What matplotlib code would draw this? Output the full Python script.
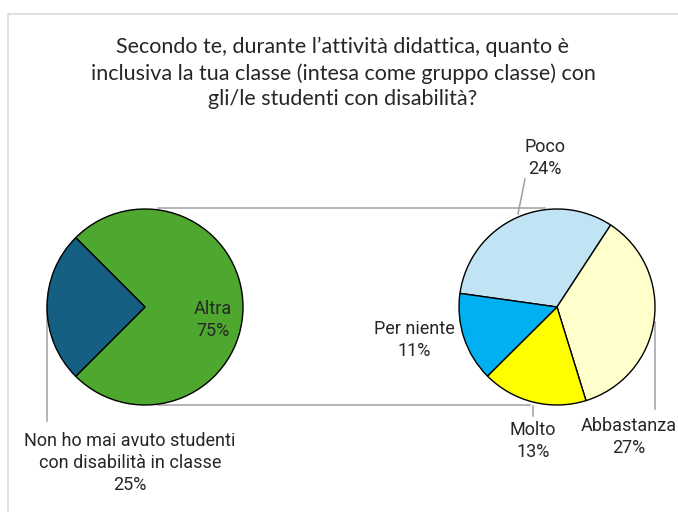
import matplotlib
matplotlib.use("Agg")
import matplotlib.pyplot as plt
from matplotlib.patches import Rectangle
from matplotlib import font_manager

# ---- data ----
title = ("Secondo te, durante l\u2019attività didattica, quanto è\n"
         "inclusiva la tua classe (intesa come gruppo classe) con\n"
         "gli/le studenti con disabilità?")
main_labels = ["Altra", "Non ho mai avuto studenti\ncon disabilità in classe"]
main_values = [75, 25]
main_colors = ["#4EA72E", "#156082"]

sub_labels = ["Poco", "Abbastanza", "Molto", "Per niente"]
sub_values = [24, 27, 13, 11]
sub_colors = ["#C1E4F5", "#FFFFCC", "#FFFF00", "#00B0F0"]

names = {f.name for f in font_manager.fontManager.ttflist}
title_font = "Lato" if "Lato" in names else "DejaVu Sans"
lab_font = "Roboto" if "Roboto" in names else "DejaVu Sans"

W, H = 678, 512
fig = plt.figure(figsize=(W / 100, H / 100), dpi=100)
ax = fig.add_axes([0, 0, 1, 1])

def Y(py):
    return H - py

# frame border
ax.add_patch(Rectangle((8, -20), 700, Y(14) + 20, fill=False, edgecolor="#D9D9D9", lw=1.2, zorder=0))

R = 98
c1 = (145, Y(307))
c2 = (557, Y(307))

ax.pie(main_values, colors=main_colors, startangle=225, counterclock=True,
       center=c1, radius=R, wedgeprops=dict(edgecolor="black", linewidth=1.0))
ax.pie(sub_values, colors=sub_colors, startangle=172, counterclock=False,
       center=c2, radius=R, wedgeprops=dict(edgecolor="black", linewidth=1.0))

# connector lines
gcol = "#A0A0A0"
ax.plot([158, 545], [Y(208), Y(208)], color=gcol, lw=1.1, zorder=0)
ax.plot([158, 530], [Y(405), Y(405)], color=gcol, lw=1.1, zorder=0)

# leader lines
ax.plot([47, 47], [Y(305), Y(421)], color=gcol, lw=1.1, zorder=0)
ax.plot([525, 518], [Y(179), Y(214)], color=gcol, lw=1.1, zorder=0)
ax.plot([533, 533], [Y(406), Y(416)], color=gcol, lw=1.1, zorder=0)
ax.plot([655, 655], [Y(322), Y(409)], color=gcol, lw=1.1, zorder=0)

fs = 13.0
def lab(x, y, s):
    ax.text(x, Y(y), s, ha="center", va="center", fontsize=fs, family=lab_font,
            color="#262626", linespacing=1.3)

lab(213, 320, f"{main_labels[0]}\n{main_values[0]}%")
lab(130, 463, f"{main_labels[1]}\n{main_values[1]}%")
lab(545, 158, f"{sub_labels[0]}\n{sub_values[0]}%")
lab(629, 437, f"{sub_labels[1]}\n{sub_values[1]}%")
lab(533, 441, f"{sub_labels[2]}\n{sub_values[2]}%")
lab(414, 340, f"{sub_labels[3]}\n{sub_values[3]}%")

ax.text(343, Y(73), title, ha="center", va="center", fontsize=15.5, family=title_font,
        color="#262626", linespacing=1.36)

ax.set_xlim(0, W)
ax.set_ylim(0, H)
ax.set_aspect("auto")
ax.axis("off")
fig.savefig("out.png", dpi=100, facecolor="white")
